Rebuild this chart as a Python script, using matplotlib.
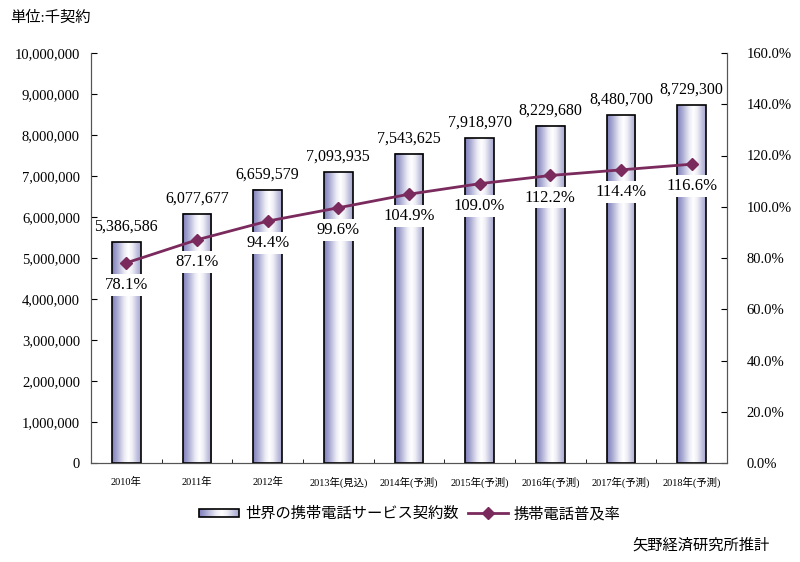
import numpy as np
import matplotlib.pyplot as plt
from matplotlib.lines import Line2D
from matplotlib.patches import Rectangle
from matplotlib.legend_handler import HandlerBase
from matplotlib.image import BboxImage
from matplotlib.transforms import Bbox, TransformedBbox

plt.rcParams['font.family'] = ['Liberation Serif', 'Noto Sans CJK JP', 'DejaVu Sans']

years = ["2010年", "2011年", "2012年", "2013年(見込)", "2014年(予測)", "2015年(予測)",
         "2016年(予測)", "2017年(予測)", "2018年(予測)"]
contracts = [5386586, 6077677, 6659579, 7093935, 7543625, 7918970, 8229680, 8480700, 8729300]
rate = [78.1, 87.1, 94.4, 99.6, 104.9, 109.0, 112.2, 114.4, 116.6]

line_col = "#7a2a5c"
bar_w = 0.41

# horizontal gradient: darker lavender at the edges, white toward the middle-right
grad = np.array([0.0, 0.25, 0.55, 0.85, 1.0, 0.85, 0.55, 0.3])
xs = np.linspace(0, 1, 64)
g = np.interp(xs, np.linspace(0, 1, len(grad)), grad)
dark = np.array([0.50, 0.50, 0.74])
img = (dark[None, :] * (1 - g[:, None]) + np.ones(3)[None, :] * g[:, None])[None, :, :]

fig = plt.figure(figsize=(8, 5.62), dpi=100)
ax = fig.add_axes([91 / 800, 1 - 463 / 562, (727 - 91) / 800, (463 - 53) / 562])
ax2 = ax.twinx()

x = np.arange(len(years))
for xi, v in zip(x, contracts):
    ax.imshow(img, extent=(xi - bar_w / 2, xi + bar_w / 2, 0, v), aspect='auto', zorder=2)
    ax.add_patch(Rectangle((xi - bar_w / 2, 0), bar_w, v, fill=False, ec="black", lw=1.2, zorder=3))
    ax.text(xi, v + 180000, f"{v:,}", ha="center", va="bottom", fontsize=11.5, zorder=5)
ax.set_xlim(-0.5, len(years) - 0.5)
ax.set_ylim(0, 10000000)

ax2.set_ylim(0, 160)
ax2.plot(x, rate, color=line_col, lw=2, marker="D", ms=6, zorder=4)
for xi, r in zip(x, rate):
    ax2.text(xi, r - 8.6, f"{r:.1f}%", ha="center", va="center", fontsize=12,
             bbox=dict(fc="white", ec="none", pad=2), zorder=5)

ax.set_yticks(np.arange(0, 10000001, 1000000))
ax.set_yticklabels([f"{int(v):,}" for v in np.arange(0, 10000001, 1000000)], fontsize=10.5)
ax2.set_yticks(np.arange(0, 161, 20))
ax2.set_yticklabels([f"{v:.1f}%" for v in np.arange(0, 161, 20)], fontsize=10.5)
ax.set_xticks(x)
ax.set_xticklabels(years, fontsize=7.5)
ax.set_xticks(np.arange(-0.5, len(years), 1), minor=True)
ax.tick_params(axis="x", which="major", length=0, pad=10)
ax.tick_params(axis="x", which="minor", length=3, direction="in")
ax.tick_params(axis="y", direction="in", length=4, pad=8)
ax2.tick_params(axis="y", direction="in", length=4, pad=14)

for a in (ax, ax2):
    a.spines["top"].set_visible(False)
    for s in ("left", "right", "bottom"):
        a.spines[s].set_color("#555555")
ax.set_zorder(ax2.get_zorder() - 1)
ax2.patch.set_visible(False)

fig.text(10 / 800, 1 - 18 / 562, "単位:千契約", fontsize=11, va="center", ha="left")
fig.text(770 / 800, 1 - 545 / 562, "矢野経済研究所推計", fontsize=11, va="center", ha="right")


class GradHandler(HandlerBase):
    def create_artists(self, legend, orig, xd, yd, w, h, fontsize, trans):
        bb = TransformedBbox(Bbox.from_bounds(xd, yd + h * 0.15, w, h * 0.7), trans)
        im = BboxImage(bb, interpolation="bilinear")
        im.set_data(img)
        r = Rectangle((xd, yd + h * 0.15), w, h * 0.7, fill=False, ec="black", lw=1.2, transform=trans)
        return [im, r]


bar_handle = Rectangle((0, 0), 1, 1)
line_handle = Line2D([], [], color=line_col, lw=2, marker="D", ms=6)
fig.legend([bar_handle, line_handle], ["世界の携帯電話サービス契約数", "携帯電話普及率"],
           loc="center", bbox_to_anchor=(410 / 800, 1 - 514 / 562), ncol=2, frameon=False,
           fontsize=11, handler_map={Rectangle: GradHandler()}, handlelength=2.6,
           columnspacing=0.6, handletextpad=0.4)

fig.savefig("out.png", dpi=100)
